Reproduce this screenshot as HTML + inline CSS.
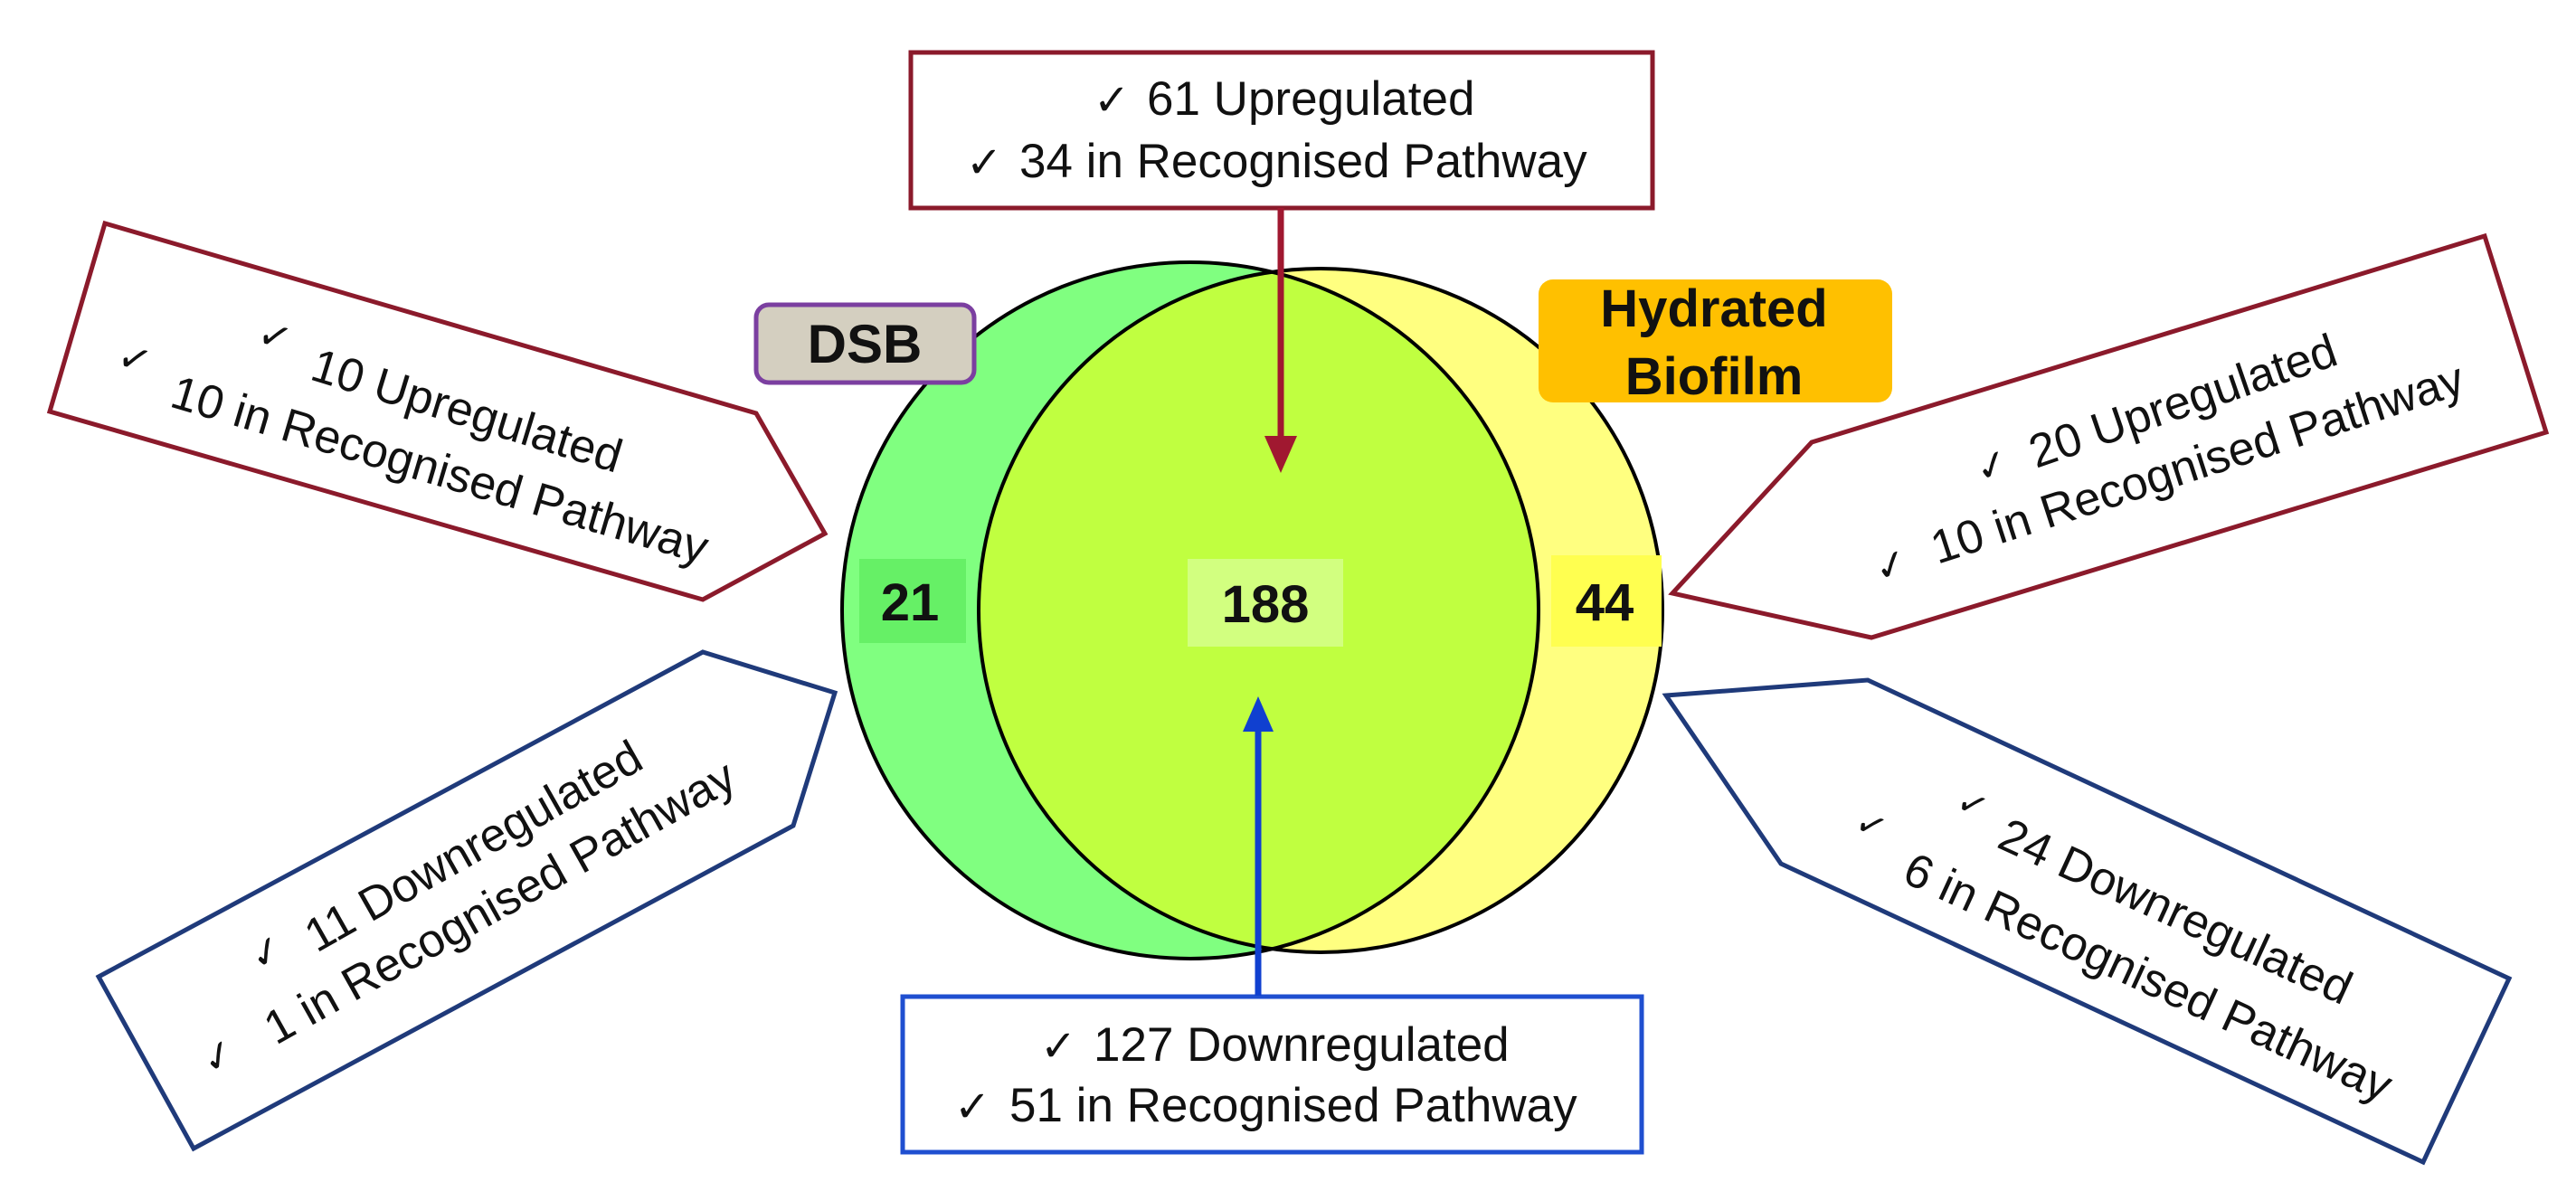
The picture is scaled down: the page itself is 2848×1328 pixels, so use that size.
<!DOCTYPE html>
<html><head><meta charset="utf-8"><style>
html,body{margin:0;padding:0;background:#fff;}
svg{display:block;}
text{font-family:"Liberation Sans",Arial,sans-serif;fill:#111;}
.ck{font-family:"DejaVu Sans","Liberation Sans",sans-serif;}
</style></head><body>
<svg width="2848" height="1328" viewBox="0 0 2848 1328" xmlns="http://www.w3.org/2000/svg">
<defs>
<clipPath id="gc"><circle cx="1316" cy="675" r="385"/></clipPath>
</defs>
<rect width="2848" height="1328" fill="#fff"/>

<!-- Venn -->
<circle cx="1316" cy="675" r="385" fill="#80FF80"/>
<circle cx="1460" cy="675" r="378" fill="#FFFF80"/>
<circle cx="1460" cy="675" r="378" fill="#C0FF40" clip-path="url(#gc)"/>
<circle cx="1316" cy="675" r="385" fill="none" stroke="#000" stroke-width="4"/>
<circle cx="1460" cy="675" r="378" fill="none" stroke="#000" stroke-width="4"/>

<!-- count boxes -->
<rect x="950" y="618" width="118" height="93" fill="#66F066"/>
<text x="1006" y="686" font-size="58" font-weight="bold" text-anchor="middle">21</text>
<rect x="1313" y="618" width="172" height="97" fill="#D2FF80"/>
<text x="1399" y="688" font-size="58" font-weight="bold" text-anchor="middle">188</text>
<rect x="1715" y="614" width="122" height="101" fill="#FFFF50"/>
<text x="1774" y="686" font-size="58" font-weight="bold" text-anchor="middle">44</text>

<!-- set labels -->
<rect x="836" y="337" width="241" height="86" rx="14" fill="#D4CFC0" stroke="#7B3FA0" stroke-width="5"/>
<text x="956" y="401" font-size="60" font-weight="bold" text-anchor="middle">DSB</text>
<rect x="1701" y="309" width="391" height="136" rx="16" fill="#FFC000"/>
<text x="1895" y="361" font-size="58" font-weight="bold" text-anchor="middle">Hydrated</text>
<text x="1895" y="436" font-size="58" font-weight="bold" text-anchor="middle">Biofilm</text>

<!-- top box -->
<rect x="1007" y="58" width="820" height="172" fill="#fff" stroke="#8B1A2B" stroke-width="5"/>
<text class="ck" x="1209" y="127" font-size="48">✓</text>
<text x="1268" y="127" font-size="53">61 Upregulated</text>
<text class="ck" x="1068" y="196" font-size="48">✓</text>
<text x="1127" y="196" font-size="53">34 in Recognised Pathway</text>
<line x1="1416" y1="230" x2="1416" y2="485" stroke="#A01830" stroke-width="7"/>
<polygon points="1398,482 1434,482 1416,523" fill="#A01830"/>

<!-- bottom box -->
<rect x="998" y="1102" width="817" height="172" fill="#fff" stroke="#1F4FD0" stroke-width="5"/>
<text class="ck" x="1150" y="1173" font-size="48">✓</text>
<text x="1209" y="1173" font-size="53">127 Downregulated</text>
<text class="ck" x="1055" y="1240" font-size="48">✓</text>
<text x="1116" y="1240" font-size="53">51 in Recognised Pathway</text>
<line x1="1391" y1="1101" x2="1391" y2="806" stroke="#1040D0" stroke-width="7"/>
<polygon points="1374,809 1408,809 1391,770" fill="#1040D0"/>

<!-- left top arrow -->
<polygon points="116,247 836,457 912,590 777,663 55,455" fill="#fff" stroke="#8B1A2B" stroke-width="5" stroke-linejoin="miter"/>
<g transform="rotate(17 341 419)">
<text x="341" y="419" font-size="52">10 Upregulated</text>
</g>
<text class="ck" x="282" y="381" font-size="44" transform="rotate(17 282 381)">✓</text>
<g transform="rotate(16.5 186 449)">
<text x="186" y="449" font-size="52">10 in Recognised Pathway</text>
</g>
<text class="ck" x="127" y="406" font-size="44" transform="rotate(17 127 406)">✓</text>

<!-- left bottom arrow -->
<polygon points="109,1080 777,721 923,766 877,913 214,1270" fill="#fff" stroke="#1F3A7A" stroke-width="5"/>
<text x="350" y="1054" font-size="52" transform="rotate(-29.5 350 1054)">11 Downregulated</text>
<text class="ck" x="286" y="1075" font-size="44" transform="rotate(-29.5 286 1075)">✓</text>
<text x="305" y="1156" font-size="52" transform="rotate(-29.2 305 1156)">1 in Recognised Pathway</text>
<text class="ck" x="233" y="1190" font-size="44" transform="rotate(-29.5 233 1190)">✓</text>

<!-- right top arrow -->
<polygon points="2003,489 2747,261 2815,478 2069,705 1849,656" fill="#fff" stroke="#8B1A2B" stroke-width="5"/>
<text x="2251" y="518" font-size="52" transform="rotate(-19 2251 518)">20 Upregulated</text>
<text class="ck" x="2190" y="535" font-size="44" transform="rotate(-19 2190 535)">✓</text>
<text x="2142" y="624" font-size="52" transform="rotate(-18 2142 624)">10 in Recognised Pathway</text>
<text class="ck" x="2078" y="645" font-size="44" transform="rotate(-18 2078 645)">✓</text>

<!-- right bottom arrow -->
<polygon points="1842,769 2065,752 2774,1082 2679,1285 1969,955" fill="#fff" stroke="#1F3A7A" stroke-width="5"/>
<text x="2206" y="936" font-size="52" transform="rotate(24.6 2206 936)">24 Downregulated</text>
<text class="ck" x="2160" y="895" font-size="40" transform="rotate(24.6 2160 895)">✓</text>
<text x="2101" y="974" font-size="52" transform="rotate(24.7 2101 974)">6 in Recognised Pathway</text>
<text class="ck" x="2048" y="918" font-size="40" transform="rotate(24.6 2048 918)">✓</text>
</svg>
</body></html>
